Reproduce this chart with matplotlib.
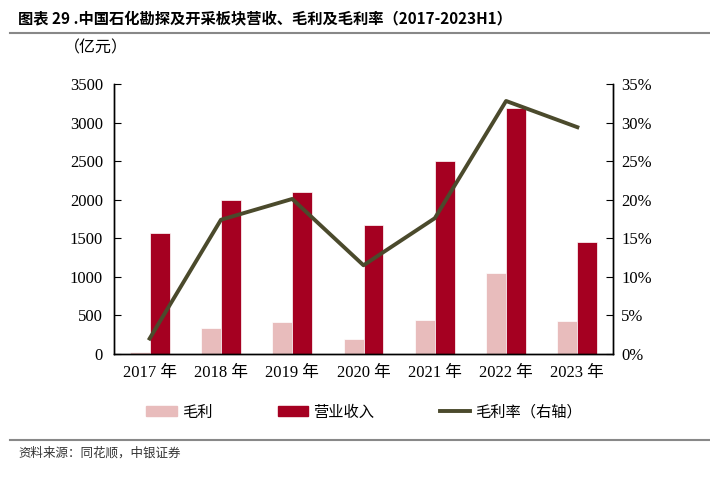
import matplotlib
matplotlib.use('Agg')
from matplotlib import pyplot as plt
from matplotlib.patches import Patch
from matplotlib.lines import Line2D
import numpy as np

years = ['2017 年', '2018 年', '2019 年', '2020 年', '2021 年', '2022 年', '2023 年']
gross_profit = [30, 340, 415, 190, 435, 1045, 425]
revenue = [1570, 2000, 2100, 1670, 2500, 3190, 1450]
margin = [2.0, 17.4, 20.1, 11.5, 17.6, 32.8, 29.4]

c_profit = '#e8bcbc'
c_rev = '#a50021'
c_line = '#4b4a2c'

plt.rcParams['font.family'] = ['Liberation Serif', 'Noto Sans CJK SC']
cjk = ['Noto Sans CJK SC', 'DejaVu Sans']

fig = plt.figure(figsize=(7.1, 4.8), dpi=100)
ax = fig.add_axes([114/710, 1 - 354/480, 499/710, 270/480])
x = np.arange(len(years))
w = 0.28
ax.bar(x - w/2, gross_profit, w, color=c_profit, edgecolor='white', linewidth=0.5)
ax.bar(x + w/2, revenue, w, color=c_rev, edgecolor='white', linewidth=0.5)
ax.set_xlim(-0.5, len(years) - 0.5)
ax.set_ylim(0, 3500)
ax.set_yticks(np.arange(0, 3501, 500))
ax.set_xticks(x)
ax.set_xticklabels(years, fontsize=12, family=['Liberation Serif', 'Noto Sans CJK SC'])
ax.tick_params(axis='x', length=0, pad=8)
ax.tick_params(axis='y', direction='in', length=5, labelsize=12, pad=8)

ax2 = ax.twinx()
ax2.plot(x, margin, color=c_line, linewidth=2.8)
ax2.set_ylim(0, 35)
ax2.set_yticks(np.arange(0, 36, 5))
ax2.set_yticklabels([f'{v}%' for v in range(0, 36, 5)])
ax2.tick_params(axis='y', direction='in', length=5, labelsize=12, pad=6)

for a in (ax, ax2):
    for s in a.spines.values():
        s.set_color('black')
        s.set_linewidth(1)
    a.spines['top'].set_visible(False)

fig.text(18/710, 1 - 18/480, '图表 29 .中国石化勘探及开采板块营收、毛利及毛利率（2017-2023H1）',
         fontsize=11, fontweight='bold', va='center', family=cjk)
fig.add_artist(Line2D([10/710, 1], [1 - 33/480] * 2, color='#888888', linewidth=1.5))
fig.text(64/710, 1 - 48/480, '（亿元）', fontsize=11.5, va='center', family=cjk)

handles = [Patch(color=c_profit), Patch(color=c_rev), Line2D([], [], color=c_line, linewidth=2.8)]
labels = ['毛利', '营业收入', '毛利率（右轴）']
fig.legend(handles, labels, loc='center', bbox_to_anchor=(364/710, 1 - 412/480), ncol=3,
           frameon=False, prop={'family': cjk, 'size': 11}, handlelength=2.0,
           handleheight=0.55, columnspacing=4.3, handletextpad=0.3)

fig.add_artist(Line2D([10/710, 1], [1 - 440/480] * 2, color='#888888', linewidth=1.5))
fig.text(18/710, 1 - 453/480, '资料来源：同花顺，中银证券', fontsize=9, va='center',
         style='italic', color='#333333', family=cjk)

fig.savefig('out.png', dpi=100)
